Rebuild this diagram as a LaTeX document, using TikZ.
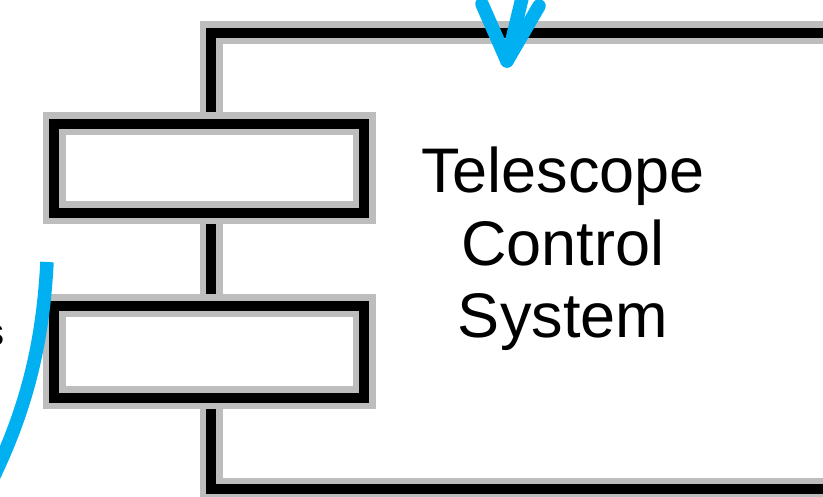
\documentclass[tikz,border=0pt]{standalone}
\usepackage{fontspec}
\setmainfont{Liberation Sans}
\definecolor{skyblue}{HTML}{00B0F0}
\definecolor{halo}{HTML}{BDBDBD}
\begin{document}
\begin{tikzpicture}[x=1pt,y=-1pt,
  haloline/.style={draw=halo,line width=23pt},
  coreline/.style={draw=black,line width=9.5pt},
  port/.style={rectangle,minimum width=310pt,minimum height=89pt,inner sep=0pt},
  bluestroke/.style={draw=skyblue,line width=13.5pt,line cap=round,line join=round}]
\useasboundingbox (0,0) rectangle (823,497);
\clip (0,0) rectangle (823,497);
% main component body
\coordinate (tr) at (850,33);
\coordinate (tl) at (211,33);
\coordinate (bl) at (211,489);
\coordinate (br) at (850,489);
\draw[haloline] (tr) -- (tl) -- (bl) -- (br);
\draw[coreline] (tr) -- (tl) -- (bl) -- (br);
% ports
\node[port,fill=white,draw=halo,line width=23pt] (p1h) at (209,168.5) {};
\node[port,minimum height=92pt,fill=white,draw=halo,line width=23pt] (p2h) at (209,352) {};
\node[port,draw=black,line width=9.5pt] (p1) at (209,168.5) {};
\node[port,minimum height=92pt,draw=black,line width=9.5pt] (p2) at (209,352) {};
% label
\node[anchor=base,align=center,font=\fontsize{63pt}{73pt}\selectfont] (lbl) at (563,338) {Telescope\\Control\\System};
% cut-off text at the left edge
\node[anchor=base east,inner sep=0pt,font=\fontsize{38pt}{40pt}\selectfont] (cut) at (5,346) {s};
% blue arc at left
\coordinate (a1) at (47,262);
\coordinate (a2) at (-14,492);
\draw[bluestroke,line cap=butt] (a1) .. controls (43,340) and (28,410) .. (a2);
% blue arrow at top
\coordinate (tip) at (507,61);
\coordinate (la) at (482,4);
\coordinate (ra) at (539,6);
\coordinate (sh) at (524,-10);
\draw[bluestroke] (la) -- (tip) -- (ra);
\draw[bluestroke] (sh) -- (tip);
\end{tikzpicture}
\end{document}
